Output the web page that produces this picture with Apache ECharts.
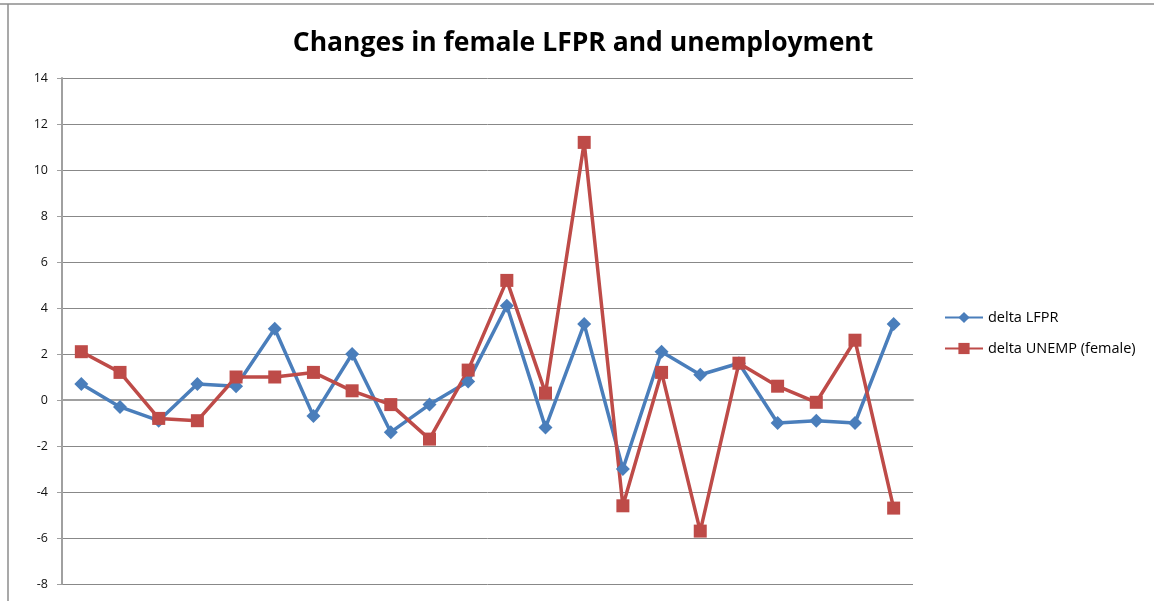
<!DOCTYPE html>
<html>
<head>
<meta charset="utf-8">
<script src="https://cdn.jsdelivr.net/npm/echarts@6/dist/echarts.min.js"></script>
<style>html,body{margin:0;padding:0;background:#fff}#c{width:1154px;height:601px}</style>
</head>
<body>
<div id="c"></div>
<script>
const categories = ['1','2','3','4','5','6','7','8','9','10','11','12','13','14','15','16','17','18','19','20','21','22'];
const deltaLFPR = [0.7,-0.3,-0.9,0.7,0.6,3.1,-0.7,2.0,-1.4,-0.2,0.8,4.1,-1.2,3.3,-3.0,2.1,1.1,1.6,-1.0,-0.9,-1.0,3.3];
const deltaUNEMP = [2.1,1.2,-0.8,-0.9,1.0,1.0,1.2,0.4,-0.2,-1.7,1.3,5.2,0.3,11.2,-4.6,1.2,-5.7,1.6,0.6,-0.1,2.6,-4.7];
const seriesNames = ['delta LFPR','delta UNEMP (female)'];
const chart = echarts.init(document.getElementById('c'));
const font = 'Open Sans, Liberation Sans, sans-serif';
chart.setOption({
  animation:false,
  backgroundColor:'#fff',
  title:{text:'Changes in female LFPR and unemployment',left:578,top:25,textAlign:'center',
    textStyle:{fontFamily:font,fontWeight:'bold',fontSize:26.5,color:'#000'}},
  legend:{orient:'vertical',left:939,top:305,itemWidth:38,itemHeight:14,itemGap:16,
    textStyle:{fontFamily:font,fontSize:14.5,color:'#000'},
    data:seriesNames},
  grid:{left:62,right:241,top:78,bottom:17,containLabel:false},
  graphic:[
    {type:'line',shape:{x1:0,y1:4,x2:1154,y2:4},style:{stroke:'#8c8c8c',lineWidth:1.5}},
    {type:'line',shape:{x1:8,y1:4,x2:8,y2:601},style:{stroke:'#8c8c8c',lineWidth:1.5}}
  ],
  xAxis:{type:'category',data:categories,boundaryGap:true,
    axisLine:{lineStyle:{color:'#a0a0a0',width:2}},axisTick:{show:false},axisLabel:{show:false},splitLine:{show:false}},
  yAxis:{type:'value',min:-8,max:14,interval:2,
    axisLine:{show:true,lineStyle:{color:'#a0a0a0',width:2}},
    axisTick:{show:true,length:5,lineStyle:{color:'#a0a0a0'}},
    axisLabel:{fontFamily:font,fontSize:12.5,color:'#111',margin:14,padding:[3,0,0,0]},
    splitLine:{lineStyle:{color:'#888',width:1}}},
  series:[
    {name:seriesNames[0],type:'line',data:deltaLFPR,symbol:'diamond',symbolSize:14,
      lineStyle:{color:'#4a7ebb',width:3.5},itemStyle:{color:'#4a7ebb'}},
    {name:seriesNames[1],type:'line',data:deltaUNEMP,symbol:'rect',symbolSize:13,
      lineStyle:{color:'#be4b48',width:3.5},itemStyle:{color:'#be4b48'}}
  ]
});
</script>
</body>
</html>
